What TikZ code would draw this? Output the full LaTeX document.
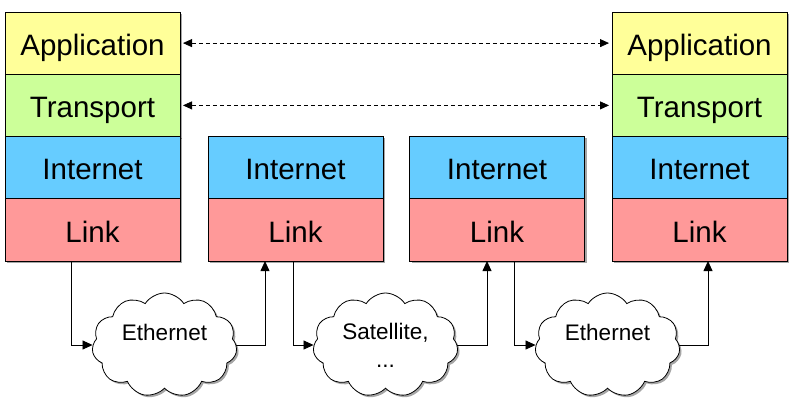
\documentclass[tikz,border=0pt]{standalone}
\usepackage{fontspec}
\setmainfont{Liberation Sans}
\usetikzlibrary{arrows.meta,shapes.symbols,shadows}

\definecolor{appyellow}{HTML}{FFFF99}
\definecolor{transgreen}{HTML}{CCFF99}
\definecolor{netblue}{HTML}{66CCFF}
\definecolor{linkred}{HTML}{FF9999}

\tikzset{
  layer/.style={draw, line width=0.8pt, minimum width=175pt, minimum height=62.25pt,
    inner sep=0pt, outer sep=0pt, font=\fontsize{29.5}{34}\selectfont,
    text height=24.2pt, text depth=0pt,
    drop shadow={shadow xshift=2pt, shadow yshift=-2pt, opacity=0.35, fill=black}},
  net/.style={cloud, cloud puffs=11, cloud puff arc=115, aspect=1.4, draw, fill=white,
    line width=0.8pt, minimum width=145pt, minimum height=104pt, inner sep=0pt,
    drop shadow={shadow xshift=2pt, shadow yshift=-2pt, opacity=0.35, fill=black}},
  nettext/.style={font=\fontsize{22.5}{28}\selectfont, align=center},
  hop/.style={-{Triangle[length=10pt,width=9pt]}, line width=0.8pt},
  peer/.style={{Triangle[length=9pt,width=8pt]}-{Triangle[length=9pt,width=8pt]},
    dash pattern=on 4pt off 3pt, line width=0.8pt, shorten <=3pt, shorten >=3pt}
}

\begin{document}
\begin{tikzpicture}[x=1pt,y=-1pt]
  \useasboundingbox (0,0) rectangle (793,407);
  % end hosts
  \node[layer, fill=appyellow] (app1) at (92.5,43.1) {Application};
  \node[layer, fill=transgreen] (trans1) at (92.5,105.4) {Transport};
  \node[layer, fill=netblue] (inet1) at (92.5,167.6) {Internet};
  \node[layer, fill=linkred] (link1) at (92.5,229.9) {Link};
  \node[layer, fill=appyellow] (app4) at (699.5,43.1) {Application};
  \node[layer, fill=transgreen] (trans4) at (699.5,105.4) {Transport};
  \node[layer, fill=netblue] (inet4) at (699.5,167.6) {Internet};
  \node[layer, fill=linkred] (link4) at (699.5,229.9) {Link};
  % routers
  \node[layer, fill=netblue] (inet2) at (295.5,167.6) {Internet};
  \node[layer, fill=linkred] (link2) at (295.5,229.9) {Link};
  \node[layer, fill=netblue] (inet3) at (497,167.6) {Internet};
  \node[layer, fill=linkred] (link3) at (497,229.9) {Link};
  % networks
  \node[net] (eth1) at (164.5,345) {};
  \node[nettext] (eth1t) at ([yshift=13pt]eth1.center) {Ethernet};
  \node[net] (sat) at (385.5,345) {};
  \node[nettext] (satt) at (sat.center) {Satellite,\\...};
  \node[net] (eth2) at (607.5,345) {};
  \node[nettext] (eth2t) at ([yshift=13pt]eth2.center) {Ethernet};
  % peer protocols
  \draw[peer] (app1.east) -- (app4.west);
  \draw[peer] (trans1.east) -- (trans4.west);
  % hops
  \draw[hop] ([xshift=-21.5pt]link1.south) |- (eth1.west);
  \draw[hop] (eth1.east) -| ([xshift=-30.5pt]link2.south);
  \draw[hop] ([xshift=-2.5pt]link2.south) |- (sat.west);
  \draw[hop] (sat.east) -| ([xshift=-10pt]link3.south);
  \draw[hop] ([xshift=17pt]link3.south) |- (eth2.west);
  \draw[hop] (eth2.east) -| ([xshift=8.5pt]link4.south);
\end{tikzpicture}
\end{document}
